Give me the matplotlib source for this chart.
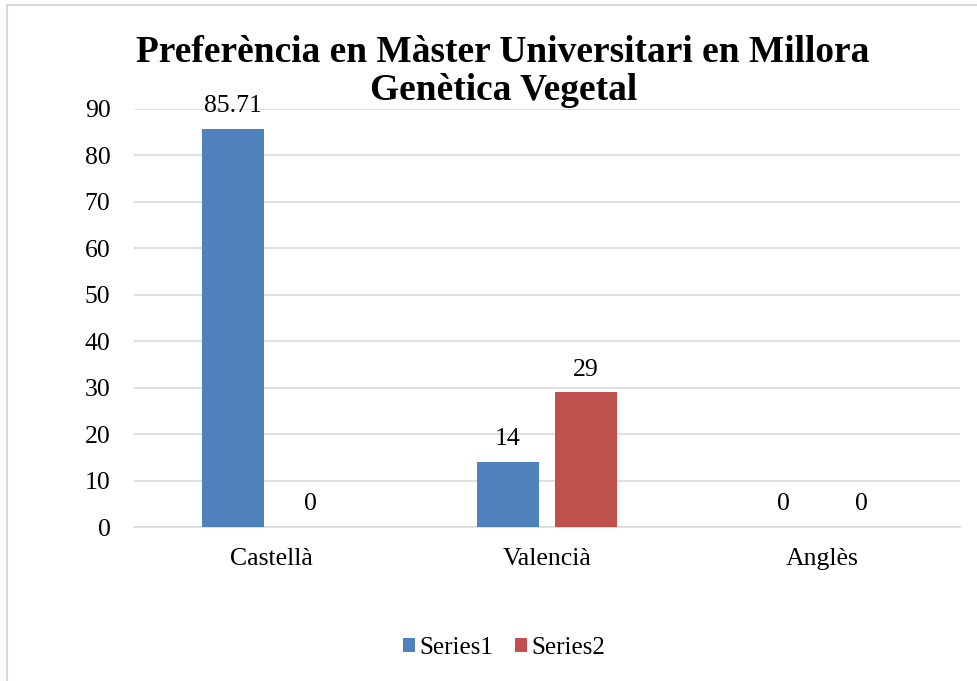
import matplotlib
matplotlib.use("Agg")
import matplotlib.pyplot as plt
from matplotlib.patches import Rectangle, Patch
import numpy as np

categories = ["Castellà", "Valencià", "Anglès"]
series1 = [85.71, 14, 0]
series2 = [0, 29, 0]
series_names = ["Series1", "Series2"]
yticks = [0, 10, 20, 30, 40, 50, 60, 70, 80, 90]
title_lines = ["Preferència en Màster Universitari en Millora", "Genètica Vegetal"]

c1 = "#4F81BD"
c2 = "#C0504D"
font = "Liberation Serif"

W, H = 978, 681
fig = plt.figure(figsize=(W / 100, H / 100), dpi=100)
ax = fig.add_axes([134 / W, 1 - 527 / H, (960 - 134) / W, (527 - 108.7) / H])

x = np.arange(len(categories))
bw = 0.225
off = 0.1418
b1 = ax.bar(x - off, series1, bw, color=c1, zorder=3)
b2 = ax.bar(x + off, series2, bw, color=c2, zorder=3)

for bars, vals in ((b1, series1), (b2, series2)):
    for rect, v in zip(bars, vals):
        lab = f"{v:g}"
        ax.annotate(lab, (rect.get_x() + rect.get_width() / 2, v),
                    xytext=(0, 12), textcoords="offset points",
                    ha="center", va="baseline", fontsize=18.5, family=font)

ax.set_xlim(-0.5, 2.5)
ax.set_ylim(0, 90)
ax.set_yticks(yticks)
ax.set_xticks(x)
ax.set_xticklabels(categories)
ax.yaxis.grid(True, color="#D9D9D9", linewidth=1.2, zorder=0)
ax.set_axisbelow(True)
for s in ["top", "right", "left"]:
    ax.spines[s].set_visible(False)
ax.spines["bottom"].set_color("#D9D9D9")
ax.spines["bottom"].set_linewidth(1.2)
ax.tick_params(axis="y", length=0, pad=17, labelsize=18.5)
ax.tick_params(axis="x", length=0, pad=15, labelsize=18.5)
for lab in ax.get_xticklabels() + ax.get_yticklabels():
    lab.set_family(font)

fig.text(503 / W, 1 - 62 / H, title_lines[0], ha="center", va="baseline",
         fontsize=26.9, fontweight="bold", family=font)
fig.text(504 / W, 1 - 100 / H, title_lines[1], ha="center", va="baseline",
         fontsize=26.9, fontweight="bold", family=font)

handles = [Patch(facecolor=c1), Patch(facecolor=c2)]
fig.legend(handles, series_names, loc="center", bbox_to_anchor=(504 / W, 1 - 648 / H),
           ncol=2, frameon=False, prop={"family": font, "size": 18},
           handlelength=0.5, handleheight=0.5, handletextpad=0.18, columnspacing=0.85)

fig.patches.append(Rectangle((7 / W, -0.05), 1.1, 1 - 5 / H + 0.05, transform=fig.transFigure,
                             fill=False, edgecolor="#D9D9D9", linewidth=1.5))

fig.savefig("out.png", dpi=100)
